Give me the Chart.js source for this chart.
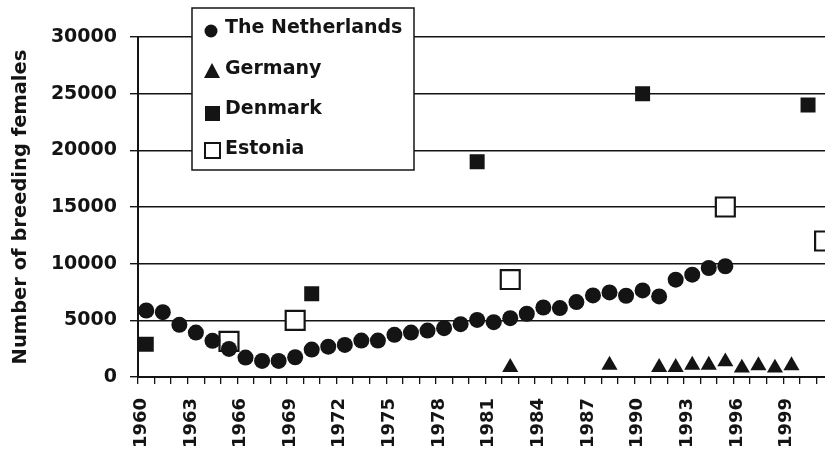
<!DOCTYPE html>
<html>
<head>
<meta charset="utf-8">
<script src="https://cdn.jsdelivr.net/npm/chart.js@4.4.1/dist/chart.umd.min.js"></script>
<style>
  html, body { margin: 0; padding: 0; background: #fff; overflow: hidden; }
  canvas { display: block; }
</style>
</head>
<body>
<canvas id="graph1" width="865" height="454"></canvas>
<script>
// x categories, one per year (the last ones run off the right edge)
var years = [];
for (let y = 1960; y <= 2002; y++) years.push(String(y));

// values
var nlYears = [1960, 1961, 1962, 1963, 1964, 1965, 1966, 1967, 1968, 1969,
               1970, 1971, 1972, 1973, 1974, 1975, 1976, 1977, 1978, 1979,
               1980, 1981, 1982, 1983, 1984, 1985, 1986, 1987, 1988, 1989,
               1990, 1991, 1992, 1993, 1994, 1995];
var nlValues = [5870, 5720, 4600, 3920, 3190, 2480, 1710, 1420, 1420, 1740,
                2420, 2680, 2830, 3210, 3210, 3720, 3920, 4100, 4310, 4660,
                5040, 4840, 5190, 5580, 6130, 6080, 6610, 7200, 7460, 7170,
                7640, 7110, 8590, 9030, 9620, 9770];

var deYears = [1982, 1988, 1991, 1992, 1993, 1994, 1995, 1996, 1997, 1998, 1999];
var deValues = [850, 1050, 850, 850, 1050, 1050, 1350, 800, 1000, 800, 1000];

var dkYears = [1960, 1970, 1980, 1990, 2000];
var dkValues = [2900, 7350, 19000, 25000, 24000];

var eeYears = [1965, 1969, 1982, 1995, 2001];
var eeValues = [3150, 5000, 8600, 15000, 12000];

var yTicks = [0, 5000, 10000, 15000, 20000, 25000, 30000];

var ink = "#141414";
var boldFont = "'DejaVu Sans', sans-serif";

function pts(ys, vs) {
    return ys.map(function (y, i) { return { x: String(y), y: vs[i] }; });
}

// legend box drawn over the grid, like the original
const boxLegend = {
    id: "boxLegend",
    afterDraw: function (chart) {
        const ctx = chart.ctx;
        ctx.save();
        ctx.fillStyle = "#fff";
        ctx.fillRect(192, 8, 222, 162);
        ctx.strokeStyle = ink;
        ctx.lineWidth = 1.5;
        ctx.strokeRect(192, 8, 222, 162);

        ctx.fillStyle = ink;
        // circle
        ctx.beginPath();
        ctx.arc(211, 31, 6.5, 0, Math.PI * 2);
        ctx.fill();
        // triangle
        ctx.beginPath();
        ctx.moveTo(212, 63);
        ctx.lineTo(220, 78);
        ctx.lineTo(204, 78);
        ctx.closePath();
        ctx.fill();
        // filled square
        ctx.fillRect(205, 106, 15, 15);
        // open square
        ctx.fillStyle = "#fff";
        ctx.fillRect(205, 143, 15, 15);
        ctx.lineWidth = 2;
        ctx.strokeRect(205, 143, 15, 15);

        ctx.fillStyle = ink;
        ctx.font = "bold 19px " + boldFont;
        ctx.textBaseline = "middle";
        ctx.textAlign = "left";
        ctx.fillText("The Netherlands", 225, 28.5);
        ctx.fillText("Germany", 225, 69);
        ctx.fillText("Denmark", 225, 109);
        ctx.fillText("Estonia", 225, 149);
        ctx.restore();
    }
};

const g1 = new Chart("graph1", {
    type: "line",
    data: {
        labels: years,
        datasets: [{
            label: "The Netherlands",
            data: pts(nlYears, nlValues),
            showLine: false,
            pointStyle: "circle",
            pointRadius: 8,
            backgroundColor: ink,
            borderColor: ink,
            borderWidth: 0
            },
            {
            label: "Germany",
            data: pts(deYears, deValues),
            showLine: false,
            pointStyle: "triangle",
            pointRadius: 9.3,
            backgroundColor: ink,
            borderColor: ink,
            borderWidth: 0
            },
            {
            label: "Denmark",
            data: pts(dkYears, dkValues),
            showLine: false,
            pointStyle: "rect",
            pointRadius: 10.6,
            backgroundColor: ink,
            borderColor: ink,
            borderWidth: 0
            },
            {
            label: "Estonia",
            data: pts(eeYears, eeValues),
            showLine: false,
            pointStyle: "rect",
            pointRadius: 13.4,
            backgroundColor: "#fff",
            borderColor: ink,
            borderWidth: 2.2
            }]
    },
    options: {
        responsive: false,
        animation: false,
        devicePixelRatio: 1,
        events: [],
        layout: { padding: { top: 37, right: 7, left: 0, bottom: 0 } },
        plugins: {
            legend: { display: false },
            tooltip: { enabled: false }
        },
        scales: {
            x: {
                type: "category",
                offset: true,
                afterFit: function (scale) {
                    scale.height = 77;
                    scale.paddingLeft = 0;
                    scale.paddingRight = 0;
                },
                grid: {
                    offset: true,
                    drawOnChartArea: false,
                    drawTicks: true,
                    tickLength: 7,
                    color: ink,
                    lineWidth: 1.3
                },
                border: { display: true, color: ink, width: 2 },
                ticks: {
                    autoSkip: false,
                    minRotation: 90,
                    maxRotation: 90,
                    padding: 14,
                    labelOffset: -5,
                    color: ink,
                    font: { family: boldFont, size: 18, weight: "bold" },
                    callback: function (v, i) {
                        const yr = Number(years[i]);
                        return (yr - 1960) % 3 === 0 && yr < 2002 ? years[i] : "";
                    }
                }
            },
            y: {
                min: yTicks[0],
                max: yTicks[yTicks.length - 1],
                afterFit: function (scale) { scale.width = 138; },
                ticks: {
                    stepSize: 5000,
                    padding: 13,
                    color: ink,
                    font: { family: boldFont, size: 19, weight: "bold" },
                    callback: function (v) { return String(v); }
                },
                grid: {
                    color: ink,
                    lineWidth: 1.4,
                    drawTicks: true,
                    tickLength: 8
                },
                border: { display: true, color: ink, width: 2 },
                title: {
                    display: true,
                    text: "Number of breeding females",
                    color: ink,
                    padding: { top: 9, bottom: 0 },
                    font: { family: boldFont, size: 19.5, weight: "bold" }
                }
            }
        }
    },
    plugins: [boxLegend]
});
</script>
</body>
</html>
